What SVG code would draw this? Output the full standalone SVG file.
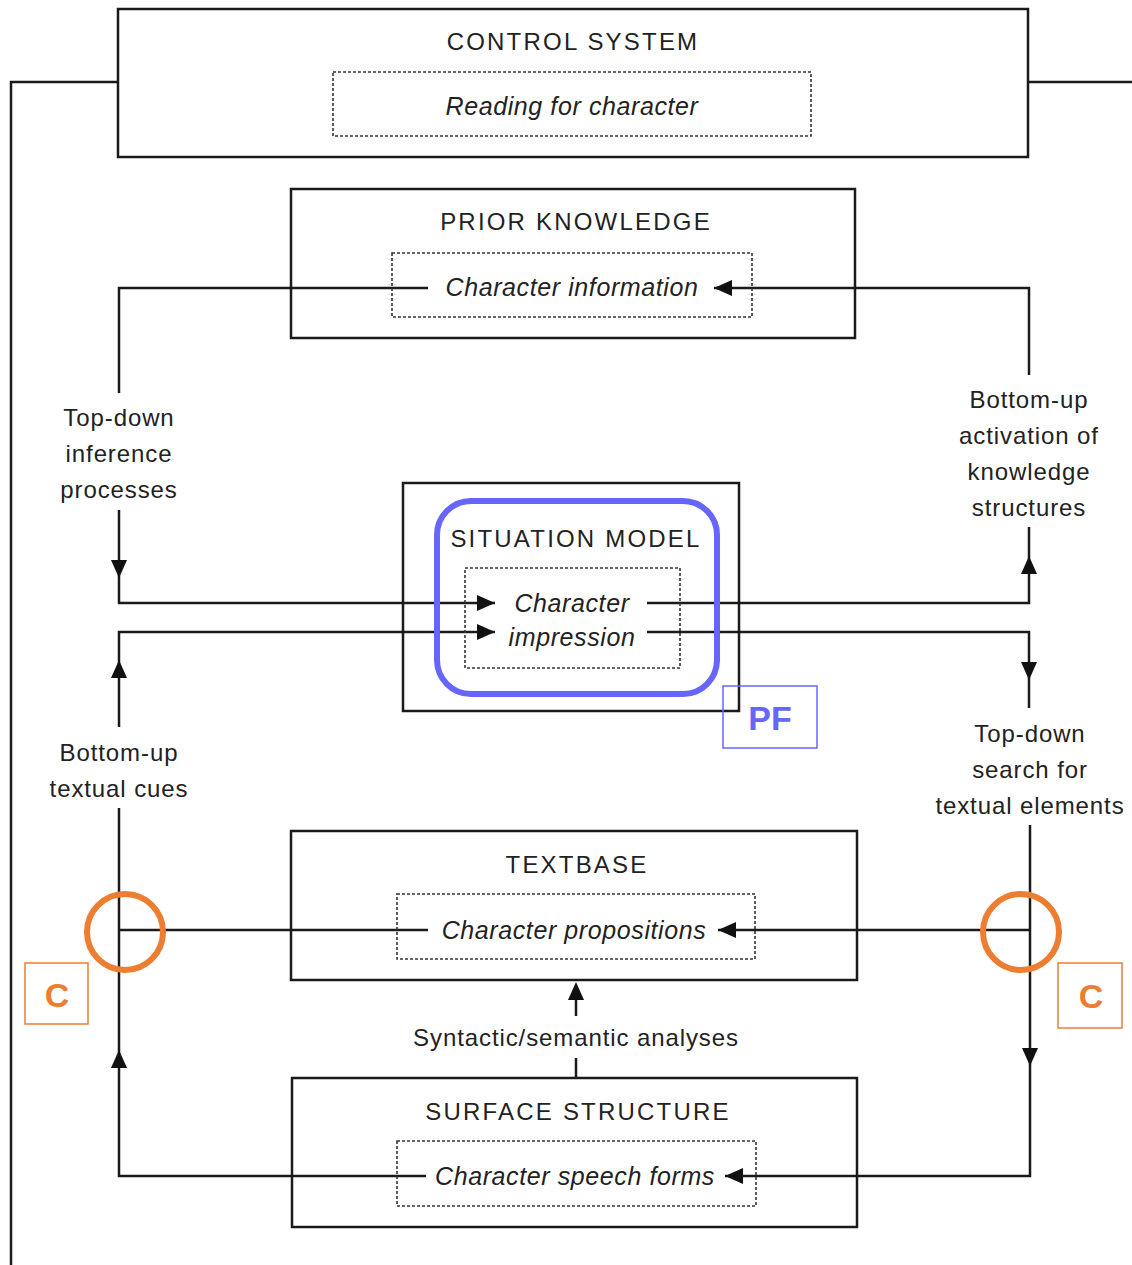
<svg xmlns="http://www.w3.org/2000/svg" width="1132" height="1265" viewBox="0 0 1132 1265">
  <style>
    .box { fill: none; stroke: #1a1a1a; stroke-width: 2.5; }
    .dash { fill: none; stroke: #333; stroke-width: 1.6; stroke-dasharray: 3 2; }
    .ln { fill: none; stroke: #1a1a1a; stroke-width: 2.5; }
    .title { font-family: "Liberation Sans", Arial, sans-serif; font-size: 24px; letter-spacing: 2.2px; fill: #222; text-anchor: middle; }
    .ital { font-family: "Liberation Sans", Arial, sans-serif; font-size: 25px; font-style: italic; letter-spacing: 0.6px; fill: #222; text-anchor: middle; }
    .lbl { font-family: "Liberation Sans", Arial, sans-serif; font-size: 24px; letter-spacing: 0.9px; fill: #222; text-anchor: middle; }
    .ah { fill: #111; }
    .orange { fill: none; stroke: #ed7d31; stroke-width: 6; }
    .obox { fill: none; stroke: #ed7d31; stroke-width: 1.5; }
    .otext { font-family: "Liberation Sans", Arial, sans-serif; font-size: 34px; font-weight: bold; fill: #ed7d31; text-anchor: middle; }
    .btext { font-family: "Liberation Sans", Arial, sans-serif; font-size: 34px; font-weight: bold; fill: #6666ff; text-anchor: middle; }
  </style>
  <defs>
    <path id="ah" d="M0,0 L-18,-8 L-18,8 Z"/>
  </defs>
  <rect width="1132" height="1265" fill="#fff"/>

  <g id="connectors">
    <!-- control system side lines -->
    <polyline class="ln" points="118,82 11,82 11,1265"/>
    <line class="ln" x1="1028" y1="82" x2="1132" y2="82"/>
    <!-- prior knowledge -->
    <polyline class="ln" points="428,288 119,288 119,393"/>
    <polyline class="ln" points="1029,375 1029,288 714,288"/>
    <use href="#ah" class="ah" transform="translate(714,288) rotate(180)"/>
    <!-- top-down inference to situation model -->
    <polyline class="ln" points="119,510 119,603 495,603"/>
    <use href="#ah" class="ah" transform="translate(119,578) rotate(90)"/>
    <use href="#ah" class="ah" transform="translate(495,603)"/>
    <polyline class="ln" points="647,603 1029,603 1029,527"/>
    <use href="#ah" class="ah" transform="translate(1029,556) rotate(-90)"/>
    <!-- bottom-up textual cues into situation model -->
    <polyline class="ln" points="119,727 119,632 495,632"/>
    <use href="#ah" class="ah" transform="translate(119,660) rotate(-90)"/>
    <use href="#ah" class="ah" transform="translate(495,632)"/>
    <polyline class="ln" points="647,632 1029,632 1029,708"/>
    <use href="#ah" class="ah" transform="translate(1029,680) rotate(90)"/>
    <!-- lower left -->
    <polyline class="ln" points="119,808 119,1176 426,1176"/>
    <use href="#ah" class="ah" transform="translate(119,1050) rotate(-90)"/>
    <line class="ln" x1="119" y1="930" x2="428" y2="930"/>
    <!-- lower right -->
    <polyline class="ln" points="1030,825 1030,1176 725,1176"/>
    <use href="#ah" class="ah" transform="translate(1030,1066) rotate(90)"/>
    <use href="#ah" class="ah" transform="translate(725,1176) rotate(180)"/>
    <line class="ln" x1="1030" y1="930" x2="718" y2="930"/>
    <use href="#ah" class="ah" transform="translate(718,930) rotate(180)"/>
    <!-- syntactic/semantic -->
    <line class="ln" x1="576" y1="1078" x2="576" y2="1058"/>
    <line class="ln" x1="576" y1="1016" x2="576" y2="990"/>
    <use href="#ah" class="ah" transform="translate(576,982) rotate(-90)"/>
  </g>

  <g id="control-system">
    <rect class="box" x="118" y="9" width="910" height="148" fill="#fff"/>
    <text class="title" x="573" y="50">CONTROL SYSTEM</text>
    <rect class="dash" x="333" y="72" width="478" height="64"/>
    <text class="ital" x="572" y="115">Reading for character</text>
  </g>

  <g id="prior-knowledge">
    <rect class="box" x="291" y="189" width="564" height="149"/>
    <text class="title" x="576" y="230">PRIOR KNOWLEDGE</text>
    <rect class="dash" x="392" y="253" width="360" height="64"/>
    <text class="ital" x="572" y="296">Character information</text>
  </g>

  <g id="label-topdown-inference">
    <text class="lbl" x="119" y="426">Top-down</text>
    <text class="lbl" x="119" y="462">inference</text>
    <text class="lbl" x="119" y="498">processes</text>
  </g>

  <g id="label-bottomup-activation">
    <text class="lbl" x="1029" y="408">Bottom-up</text>
    <text class="lbl" x="1029" y="444">activation of</text>
    <text class="lbl" x="1029" y="480">knowledge</text>
    <text class="lbl" x="1029" y="516">structures</text>
  </g>

  <g id="situation-model">
    <rect class="box" x="403" y="483" width="336" height="228"/>
    <text class="title" x="576" y="547">SITUATION MODEL</text>
    <rect class="dash" x="465" y="568" width="215" height="100"/>
    <text class="ital" x="572" y="612">Character</text>
    <text class="ital" x="572" y="646">impression</text>
  </g>

  <g id="pf-highlight">
    <rect x="437" y="501" width="280" height="193" rx="34" fill="none" stroke="#6666ff" stroke-width="6"/>
    <rect x="723" y="686" width="94" height="62" fill="none" stroke="#6666ff" stroke-width="1.5"/>
    <text class="btext" x="770" y="730">PF</text>
  </g>

  <g id="label-bottomup-cues">
    <text class="lbl" x="119" y="761">Bottom-up</text>
    <text class="lbl" x="119" y="797">textual cues</text>
  </g>

  <g id="label-topdown-search">
    <text class="lbl" x="1030" y="742">Top-down</text>
    <text class="lbl" x="1030" y="778">search for</text>
    <text class="lbl" x="1030" y="814">textual elements</text>
  </g>

  <g id="textbase">
    <rect class="box" x="291" y="831" width="566" height="149"/>
    <text class="title" x="577" y="873">TEXTBASE</text>
    <rect class="dash" x="397" y="894" width="358" height="65"/>
    <text class="ital" x="574" y="939">Character propositions</text>
  </g>

  <g id="label-syntactic">
    <text class="lbl" x="576" y="1046">Syntactic/semantic analyses</text>
  </g>

  <g id="surface-structure">
    <rect class="box" x="292" y="1078" width="565" height="149"/>
    <text class="title" x="578" y="1120">SURFACE STRUCTURE</text>
    <rect class="dash" x="397" y="1141" width="359" height="65"/>
    <text class="ital" x="575" y="1185">Character speech forms</text>
  </g>

  <g id="c-left">
    <circle class="orange" cx="125" cy="932" r="38"/>
    <rect class="obox" x="25" y="963" width="63" height="61"/>
    <text class="otext" x="57" y="1007">C</text>
  </g>

  <g id="c-right">
    <circle class="orange" cx="1021" cy="932" r="38"/>
    <rect class="obox" x="1058" y="963" width="64" height="65"/>
    <text class="otext" x="1091" y="1008">C</text>
  </g>
</svg>
